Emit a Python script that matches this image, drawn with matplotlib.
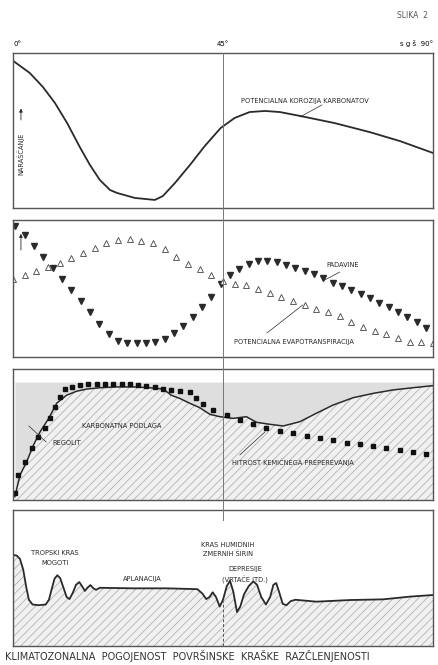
import matplotlib.pyplot as plt
import matplotlib.lines as mlines

plt.rcParams['font.family'] = ['Liberation Sans Narrow', 'DejaVu Sans']
plt.rcParams['hatch.linewidth'] = 0.5

# Stopinje geografske širine
stopinje_korozija = [0, 3.6, 6.4, 9.0, 11.6, 14.3, 16.5, 18.6, 20.8, 22.3, 26.1, 30.4, 32.1,
                     34.7, 37.9, 41.1, 44.5, 47.5, 50.7, 54.0, 57.2, 61.5, 68.9, 76.4, 82.9, 90]
korozija = [95, 87.1, 78.1, 67.7, 54.8, 39.4, 27.7, 18.1, 11.6, 9.7, 6.5, 5.2, 7.7,
            16.1, 27.7, 40, 51.6, 58.1, 61.9, 62.6, 61.9, 59.4, 54.8, 49, 43.2, 35.5]

# Padavine (polni trikotniki)
stopinje_padavine = [0.5 + 2 * i for i in range(45)]
padavine = [95.6, 89.3, 81.1, 73, 65, 56.9, 48.7, 40.6, 32.6, 24.3, 17, 11.7, 10, 10, 10,
            11, 13.4, 17.5, 22.9, 29.4, 36.3, 44, 53.3, 59.9, 64.2, 67.6, 69.8, 70.3, 69.1,
            67.2, 65.2, 62.6, 60.6, 57.4, 54.3, 51.6, 48.7, 45.7, 42.8, 39.7, 36.3, 32.8,
            29, 25.5, 21.4]

# Potencialna evapotranspiracija (prazni trikotniki)
stopinje_evapo = [i * 2.5 for i in range(37)]
evapo = [56.9, 59.6, 62.5, 65.4, 68.8, 72, 75.7, 79.3, 83, 85.4, 86.1, 84.9, 83, 78.8,
         72.7, 67.6, 63.9, 59.9, 55.7, 53, 52.3, 49.6, 46.9, 43.8, 40.9, 38, 35.3, 32.6,
         29.9, 25.8, 21.9, 19.2, 16.5, 13.6, 11.2, 10.7, 10]

# Zgornja meja karbonatne podlage
stopinje_podlaga = [0.4, 1.5, 2.9, 4.4, 5.8, 7.6, 9.4, 11.5, 13.6, 15.8, 18.6, 22.2, 25.8,
                    29.3, 32.2, 33.9, 35.7, 37.9, 40, 42.2, 44.3, 47.2, 50, 52.2, 55, 57.9,
                    61.5, 65, 68.6, 72.9, 77.2, 81.4, 85.7, 90]
podlaga = [2.5, 19, 29, 42, 52, 62, 74, 80, 83, 84.7, 85.7, 86.3, 86.3, 85.7, 84.7, 80,
           77.6, 73.8, 70.5, 65.4, 63.6, 62.3, 63.6, 59.3, 57.8, 56.5, 59.8, 66.2, 72.5,
           78.1, 81.4, 84, 85.7, 87.3]

# Hitrost kemičnega preperevanja
stopinje_preperevanje = [0.4, 1.1, 2.5, 4.0, 5.4, 6.9, 7.9, 9.0, 10.1, 11.1, 12.6, 14.3, 16.1,
                         17.9, 19.7, 21.5, 23.3, 25.1, 26.8, 28.6, 30.4, 32.2, 33.9, 35.7,
                         37.9, 39.3, 40.7, 42.9, 45.8, 48.6, 51.5, 54.3, 57.2, 60, 62.9, 65.7,
                         68.6, 71.5, 74.3, 77.2, 80, 82.9, 85.8, 88.6]
preperevanje = [5, 19, 29, 39.4, 48.3, 54.7, 62.3, 71.2, 78.9, 84.7, 86.5, 87.8, 88.3, 88.8,
                88.8, 88.8, 88.5, 88.3, 87.8, 87.3, 86.3, 84.7, 83.7, 83.2, 82.7, 77.6, 73,
                68.7, 64.9, 61.1, 57.8, 54.7, 52.7, 50.9, 49.1, 47.1, 45.6, 43.8, 42.5, 41.2,
                39.4, 38.2, 36.4, 34.9]

# Površinska razčlenjenost
stopinje_relief = [0, 0.8, 1.5, 2.2, 2.8, 3.4, 4.2, 5.5, 7.0, 7.7, 8.3, 8.9, 9.5, 10.1, 10.8,
                   11.5, 12.1, 12.8, 13.5, 14.2, 14.8, 15.4, 16.0, 16.6, 17.2, 17.8, 18.6,
                   25.8, 32.9, 39.5, 40.6, 41.4, 42.1, 42.8, 43.5, 44.3, 45.0, 45.8, 46.5,
                   47.2, 48, 48.7, 49.5, 50.5, 51.5, 52.3, 53.2, 54.2, 55.1, 55.8, 56.4, 57.0,
                   57.8, 58.6, 59.5, 60.5, 65, 72.2, 79.3, 85, 90]
relief = [67, 66.5, 64, 56, 44, 34, 30.5, 30, 30.5, 34, 42, 49.5, 52, 50, 43,
          36, 34.5, 39, 45, 47, 44, 40.5, 43, 44.8, 42.5, 41.3, 42.8,
          42.4, 42.4, 41.8, 38.5, 34.5, 36, 39.5, 36, 29, 34, 44, 48,
          40, 25, 29, 38, 44, 47.5, 45, 36, 30.5, 36, 45, 46.3, 40,
          31, 30, 33, 34, 32.6, 33.8, 34.3, 36.3, 37.5]

W, H = 438, 665
fig = plt.figure(figsize=(W / 100, H / 100), dpi=100)
crna = '#2a2a2a'
siva = '#a8a8a8'
fs = 4.8


def panel(top, bottom):
    ax = fig.add_axes([13 / W, (H - bottom) / H, 420 / W, (bottom - top) / H])
    ax.set_xlim(0, 90)
    ax.set_ylim(0, 100)
    ax.set_xticks([])
    ax.set_yticks([])
    for s in ax.spines.values():
        s.set_color('#555555')
        s.set_linewidth(1.0)
    return ax


ax1 = panel(53, 208)
ax2 = panel(220, 357)
ax3 = panel(369, 500)
ax4 = panel(510, 646)

# Navpična črta pri 45°
fig.add_artist(mlines.Line2D([223 / W, 223 / W], [(H - 53) / H, (H - 520) / H],
                             color='#777777', lw=0.7))

# Panel 1
ax1.plot(stopinje_korozija, korozija, color=crna, lw=1.3)
ax1.text(62.5, 69, 'POTENCIALNA KOROZIJA KARBONATOV', fontsize=fs, ha='center', va='center', color=crna)
ax1.plot([66.2, 61.5], [66.5, 58.7], color=crna, lw=0.5)
ax1.annotate('', xy=(1.7, 66), xytext=(1.7, 55),
             arrowprops=dict(arrowstyle='-|>', color=crna, lw=0.6, mutation_scale=5))
ax1.text(1.7, 35, 'NARAŠČANJE', rotation=90, fontsize=fs, ha='center', va='center', color=crna)
ax1.text(0, 104, '0°', fontsize=5, ha='left', va='bottom', clip_on=False)
ax1.text(45, 104, '45°', fontsize=5, ha='center', va='bottom', clip_on=False)
ax1.text(90, 104, 's g š  90°', fontsize=5, ha='right', va='bottom', clip_on=False)
fig.text(428 / W, (H - 15) / H, 'SLIKA  2', fontsize=5.5, ha='right', va='center', color='#555555')

# Panel 2
ax2.plot(stopinje_padavine, padavine, 'v', color=crna, ms=4.5, ls='none')
ax2.plot(stopinje_evapo, evapo, '^', mfc='white', mec='#444444', mew=0.6, ms=5, ls='none')
ax2.text(70.7, 67.2, 'PADAVINE', fontsize=fs, ha='center', va='center', color=crna)
ax2.plot([70, 66.8], [62, 56.2], color=crna, lw=0.5)
ax2.text(60.2, 10.9, 'POTENCIALNA EVAPOTRANSPIRACIJA', fontsize=fs, ha='center', va='center', color=crna)
ax2.plot([54.4, 62.1], [17.5, 38], color=crna, lw=0.5)
ax2.annotate('', xy=(1.7, 92), xytext=(1.7, 76),
             arrowprops=dict(arrowstyle='-|>', color=crna, lw=0.6, mutation_scale=5))

# Panel 3
ax3.fill_between(stopinje_podlaga, podlaga, 90, color='#dedede', lw=0)
ax3.fill_between(stopinje_podlaga, 0, podlaga, facecolor='#f0f0f0', edgecolor=siva,
                 hatch='////', lw=0)
ax3.plot(stopinje_podlaga, podlaga, color=crna, lw=1.1)
ax3.plot(stopinje_preperevanje, preperevanje, 's', color='#111111', ms=3.5, ls='none')
ax3.text(23.3, 56.5, 'KARBONATNA PODLAGA', fontsize=fs, ha='center', va='center', color=crna)
ax3.text(11.6, 43.5, 'REGOLIT', fontsize=fs, ha='center', va='center', color=crna)
ax3.plot([3.4, 7.1], [56.5, 44.3], color=crna, lw=0.5)
ax3.text(60, 29, 'HITROST KEMIČNEGA PREPEREVANJA', fontsize=fs, ha='center', va='center', color=crna)
ax3.plot([48.6, 54], [34.4, 52], color=crna, lw=0.5)

# Panel 4
ax4.fill_between(stopinje_relief, 0, relief, facecolor='#f0f0f0', edgecolor=siva,
                 hatch='////', lw=0)
ax4.plot(stopinje_relief, relief, color=crna, lw=1.3)
ax4.plot([45, 45], [0, 33], color='#555555', lw=0.7, ls=(0, (3, 2)))
ax4.text(9, 68.4, 'TROPSKI KRAS', fontsize=fs, ha='center', va='center', color=crna)
ax4.text(9, 61, 'MOGOTI', fontsize=fs, ha='center', va='center', color=crna)
ax4.text(27.8, 49.3, 'APLANACIJA', fontsize=fs, ha='center', va='center', color=crna)
ax4.text(46, 74.3, 'KRAS HUMIDNIH', fontsize=fs, ha='center', va='center', color=crna)
ax4.text(46, 67.6, 'ZMERNIH ŠIRIN', fontsize=fs, ha='center', va='center', color=crna)
ax4.text(49.7, 56.6, 'DEPRESIJE', fontsize=fs, ha='center', va='center', color=crna)
ax4.text(49.7, 48.5, '(VRTAČE ITD.)', fontsize=fs, ha='center', va='center', color=crna)

# Podnapis
fig.text(5 / W, (H - 656) / H, 'KLIMATOZONALNA  POGOJENOST  POVRŠINSKE  KRAŠKE  RAZČLENJENOSTI',
         fontsize=7, ha='left', va='center', color='#333333')

fig.savefig('out.png', dpi=100)
